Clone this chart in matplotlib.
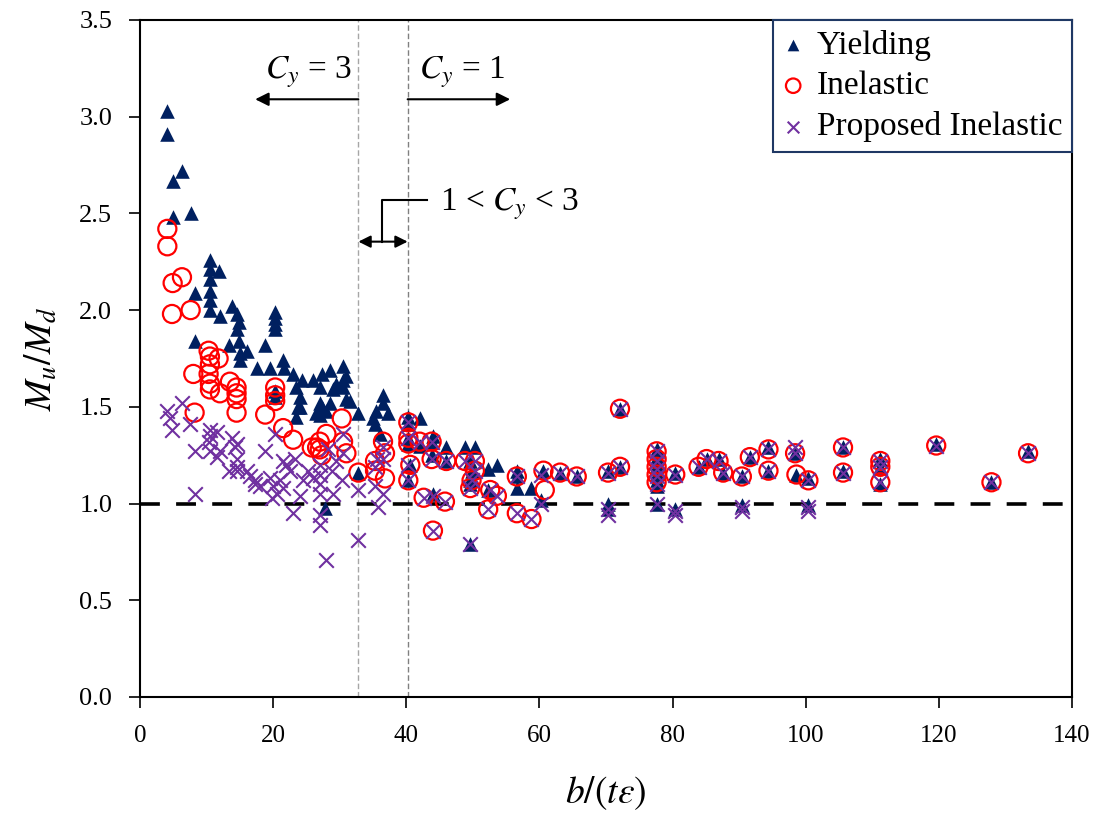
import matplotlib
matplotlib.use("Agg")
import matplotlib.pyplot as plt
import numpy as np

plt.rcParams["font.family"] = ["Liberation Serif", "DejaVu Serif"]
plt.rcParams["mathtext.fontset"] = "stix"

# Yielding (triangles)
yield_x = [4.1, 4.1, 4.9, 6.3, 4.9, 7.6,
           10.5, 10.5, 10.5, 10.5, 10.5, 10.5, 11.8, 8.3, 12.0, 13.8, 14.5, 14.8, 14.5,
           20.3, 20.3, 20.3, 20.3,
           8.3, 13.3, 14.8, 15.0, 16.0, 18.8, 15.0, 17.5, 19.5, 21.5, 21.6, 23.0, 24.3, 26.0,
           27.3, 28.5, 30.5, 30.5, 27.0, 29.0, 31.0, 24.0, 23.5, 24.0, 27.0, 28.0, 32.8,
           20.3, 20.3, 23.8, 27.3, 28.5, 23.5, 27.0, 31.5, 30.5, 31.0, 29.5, 26.5,
           32.8, 27.8,
           36.5, 35.5, 37.3, 35.3, 36.0, 36.5, 35.0,
           40.3, 42.0, 44.0, 42.0, 46.0, 48.8, 50.3, 52.3, 53.6, 56.6, 56.6, 58.8, 60.3,
           44.0, 49.6, 52.3,
           40.3, 40.3, 40.3, 43.8, 43.8, 46.0, 40.6, 40.3, 49.6, 49.8, 49.6, 49.6, 56.6,
           60.6, 63.1, 65.6,
           70.3, 70.3, 70.3, 72.1, 72.1,
           77.6, 77.6, 77.6, 77.6, 77.6, 77.6, 77.6,
           80.4, 80.4, 83.9, 85.1, 86.9, 87.6, 90.4, 90.4, 91.6, 94.4, 94.4, 98.4, 98.6,
           100.4, 100.4, 105.6, 105.6, 111.2, 111.2, 111.2, 119.6, 127.9, 133.4]
yield_y = [3.03, 2.91, 2.67, 2.72, 2.48, 2.50,
           2.26, 2.21, 2.16, 2.10, 2.05, 2.00, 2.20, 2.09, 1.97, 2.02, 1.98, 1.94, 1.90,
           1.99, 1.96, 1.93, 1.90,
           1.84, 1.82, 1.84, 1.78, 1.79, 1.82, 1.74, 1.70, 1.70, 1.74, 1.70, 1.67, 1.64, 1.64,
           1.67, 1.69, 1.71, 1.64, 1.60, 1.59, 1.54, 1.55, 1.60, 1.50, 1.52, 1.48, 1.47,
           1.58, 1.55, 1.50, 1.50, 1.52, 1.45, 1.46, 1.53, 1.60, 1.66, 1.62, 1.47,
           1.16, 0.975,
           1.56, 1.48, 1.47, 1.41, 1.36, 1.52, 1.44,
           1.45, 1.44, 1.35, 1.30, 1.29, 1.29, 1.29, 1.18, 1.20, 1.17, 1.08, 1.08, 1.02,
           1.05, 0.79, 1.07,
           1.41, 1.34, 1.31, 1.32, 1.25, 1.22, 1.20, 1.12, 1.22, 1.17, 1.12, 1.10, 1.14,
           1.17, 1.16, 1.14,
           1.17, 1.00, 0.97, 1.19, 1.49,
           1.28, 1.24, 1.20, 1.16, 1.12, 1.09, 1.00,
           1.16, 0.97, 1.19, 1.23, 1.23, 1.16, 1.14, 0.99, 1.24, 1.29, 1.17, 1.26, 1.15,
           1.13, 0.99, 1.29, 1.17, 1.23, 1.19, 1.10, 1.31, 1.11, 1.27]

# Inelastic (circles)
inel_x = [4.1, 4.1, 4.9, 6.3, 4.8, 7.6,
          10.3, 10.5, 10.5, 10.3, 10.5, 10.5, 11.8, 8.0, 13.5, 14.5, 14.5, 14.5, 12.0, 14.5,
          20.3, 20.3, 20.3, 18.8, 8.2,
          21.5, 23.0, 25.8, 27.0, 27.0, 28.0, 30.3, 30.5, 31.0, 32.8, 26.6, 27.3,
          36.5, 36.8, 35.3, 35.3, 36.8,
          40.3, 40.3, 40.3, 42.0, 43.8, 43.8, 46.0, 40.6, 40.3, 42.6, 45.8, 44.0,
          48.8, 50.3, 50.3, 49.8, 49.6, 52.6, 53.6, 52.3, 56.6, 56.6, 58.8, 60.6, 60.8,
          63.1, 65.6,
          70.3, 72.1, 72.1,
          77.6, 77.6, 77.6, 77.6, 77.6, 80.4, 83.9, 85.1, 86.9, 87.6, 90.4, 91.6, 94.4,
          94.4, 98.4, 98.6, 100.4, 105.6, 105.6, 111.2, 111.2, 111.2, 119.6, 127.9, 133.4]
inel_y = [2.42, 2.33, 2.14, 2.17, 1.98, 2.00,
          1.79, 1.76, 1.72, 1.67, 1.62, 1.59, 1.75, 1.67, 1.63, 1.60, 1.57, 1.54, 1.57, 1.47,
          1.60, 1.56, 1.53, 1.46, 1.47,
          1.39, 1.33, 1.29, 1.32, 1.28, 1.36, 1.44, 1.32, 1.26, 1.16, 1.29, 1.25,
          1.32, 1.26, 1.22, 1.17, 1.13,
          1.42, 1.34, 1.31, 1.32, 1.32, 1.23, 1.22, 1.20, 1.12, 1.03, 1.01, 0.86,
          1.22, 1.22, 1.17, 1.12, 1.08, 1.07, 1.04, 0.97, 1.14, 0.95, 0.92, 1.17, 1.07,
          1.16, 1.14,
          1.16, 1.19, 1.49,
          1.27, 1.23, 1.19, 1.15, 1.11, 1.15, 1.19, 1.23, 1.22, 1.16, 1.14, 1.24, 1.28,
          1.17, 1.26, 1.15, 1.12, 1.29, 1.16, 1.22, 1.19, 1.11, 1.30, 1.11, 1.26]

# Proposed Inelastic (crosses)
prop_x = [4.0, 4.5, 4.8, 6.3, 7.5, 8.3, 8.3,
          10.5, 10.5, 10.3, 11.5, 10.5, 11.5, 12.0,
          13.8, 14.3, 14.5, 14.5, 14.5, 13.3, 14.5, 16.0, 17.3, 18.0, 18.8, 20.3, 19.5, 19.8,
          21.5, 21.9, 21.0, 21.5, 23.3, 23.0, 24.0, 24.5, 25.3, 27.0, 27.0, 27.0, 27.0, 27.0,
          27.0, 28.0, 28.3, 28.8, 29.0, 29.5, 30.5, 30.5, 30.3, 32.8, 32.8,
          20.0, 20.5, 17.3, 16.5, 22.5, 26.0,
          35.3, 36.5, 36.5, 35.3, 35.8, 36.5, 35.6,
          40.3, 40.3, 40.3, 40.3, 42.0, 43.8, 43.8, 46.0, 42.6, 45.8, 44.0, 44.0,
          48.8, 50.3, 50.3, 49.8, 49.6, 49.6, 52.6, 53.6, 52.3, 56.6, 56.6, 58.8, 60.3, 60.3,
          63.1, 65.6,
          70.3, 70.3, 70.3, 72.1, 72.1,
          77.6, 77.6, 77.6, 77.6, 77.6, 77.6, 80.4, 80.4, 80.4, 83.9, 85.1, 86.9, 87.6,
          90.4, 90.4, 90.4, 91.6, 94.4, 94.4, 98.4, 98.4, 100.4, 100.4, 100.4, 105.6, 105.6,
          111.2, 111.2, 111.2, 119.6, 127.9, 133.4]
prop_y = [1.48, 1.44, 1.38, 1.52, 1.41, 1.27, 1.05,
          1.38, 1.35, 1.32, 1.37, 1.27, 1.24, 1.27,
          1.34, 1.29, 1.31, 1.23, 1.19, 1.17, 1.17, 1.17, 1.12, 1.09, 1.27, 1.36, 1.13, 1.03,
          1.22, 1.20, 1.12, 1.08, 1.23, 0.95, 1.04, 1.12, 1.17, 1.20, 1.15, 1.10, 1.05, 0.94,
          0.89, 0.71, 1.28, 1.17, 1.05, 1.22, 1.36, 1.26, 1.12, 1.07, 0.81,
          1.09, 1.05, 1.10, 1.14, 1.17, 1.13,
          1.19, 1.29, 1.23, 1.09, 0.98, 1.05, 1.23,
          1.42, 1.34, 1.20, 1.12, 1.32, 1.32, 1.23, 1.22, 1.03, 1.01, 0.86, 1.04,
          1.22, 1.22, 1.17, 1.12, 1.08, 0.79, 1.07, 1.04, 0.97, 1.14, 0.95, 0.92, 1.15, 1.00,
          1.16, 1.14,
          1.16, 0.97, 0.94, 1.19, 1.49,
          1.27, 1.22, 1.18, 1.14, 1.10, 1.00, 1.15, 0.96, 0.94, 1.19, 1.23, 1.22, 1.16,
          1.14, 0.98, 0.96, 1.24, 1.28, 1.17, 1.29, 1.26, 1.12, 0.98, 0.96, 1.29, 1.16,
          1.22, 1.19, 1.11, 1.30, 1.11, 1.26]

cy_bounds = [32.8, 40.2]

fig = plt.figure(figsize=(11.07, 8.15), dpi=100)
ax = fig.add_axes([0.1265, 0.1448, 0.8419, 0.8307])

ax.scatter(yield_x, yield_y, marker="^", s=110, color="#002060", linewidths=0,
           label="Yielding", zorder=3)
ax.scatter(inel_x, inel_y, marker="o", s=170, facecolors="none", edgecolors="#FF0000",
           linewidths=1.6, label="Inelastic", zorder=4)
ax.scatter(prop_x, prop_y, marker="x", s=110, color="#7030A0", linewidths=1.5,
           label="Proposed Inelastic", zorder=5)

ax.axhline(1.0, color="black", lw=2.6, linestyle=(0, (5.5, 4.5)), zorder=2)
ax.axvline(cy_bounds[0], color="#a6a6a6", lw=1.0, linestyle=(0, (4, 2)), zorder=1)
ax.axvline(cy_bounds[1], color="#808080", lw=1.0, linestyle=(0, (4, 2)), zorder=1)

arrow = dict(arrowstyle="-|>", color="black", lw=1.5, mutation_scale=20,
             shrinkA=0, shrinkB=0)
ax.annotate("", xy=(17.3, 3.09), xytext=(cy_bounds[0], 3.09), arrowprops=arrow)
ax.annotate("", xy=(55.6, 3.09), xytext=(cy_bounds[1], 3.09), arrowprops=arrow)
ax.text(25.3, 3.23, "$C_y$ = 3", fontsize=24, ha="center", va="center")
ax.text(48.4, 3.23, "$C_y$ = 1", fontsize=24, ha="center", va="center")

ax.annotate("", xy=(cy_bounds[0], 2.354), xytext=(cy_bounds[1], 2.354),
            arrowprops=dict(arrowstyle="<|-|>", color="black", lw=1.5,
                            mutation_scale=18, shrinkA=0, shrinkB=0))
ax.plot([36.3, 36.3, 43.1], [2.354, 2.57, 2.57], color="black", lw=1.5)
ax.text(45.1, 2.55, "1 < $C_y$ < 3", fontsize=24, ha="left", va="center")

ax.set_xlim(0, 140)
ax.set_ylim(0, 3.5)
ax.set_xticks(np.arange(0, 141, 20))
ax.set_yticks(np.arange(0, 3.51, 0.5))
ax.set_yticklabels([f"{v:.1f}" for v in np.arange(0, 3.51, 0.5)])
ax.tick_params(direction="out", length=8, width=1.2, top=False, right=False)
ax.tick_params(axis="x", labelsize=18, pad=12)
ax.tick_params(axis="y", labelsize=19, pad=12)
for side in ["left", "bottom", "right", "top"]:
    ax.spines[side].set_linewidth(1.5)

ax.set_xlabel("$b/(t\\varepsilon)$", fontsize=27, labelpad=20)
ax.set_ylabel("$M_u/M_d$", fontsize=27, labelpad=14)

leg = ax.legend(loc="upper right", borderaxespad=0, fontsize=24, markerscale=0.8,
                handlelength=0.6, handletextpad=0.4, labelspacing=0.3,
                borderpad=0.3, fancybox=False, framealpha=1)
leg.get_frame().set_edgecolor("#1F3864")
leg.get_frame().set_linewidth(1.5)

fig.savefig("out.png", dpi=100)
plt.close(fig)
